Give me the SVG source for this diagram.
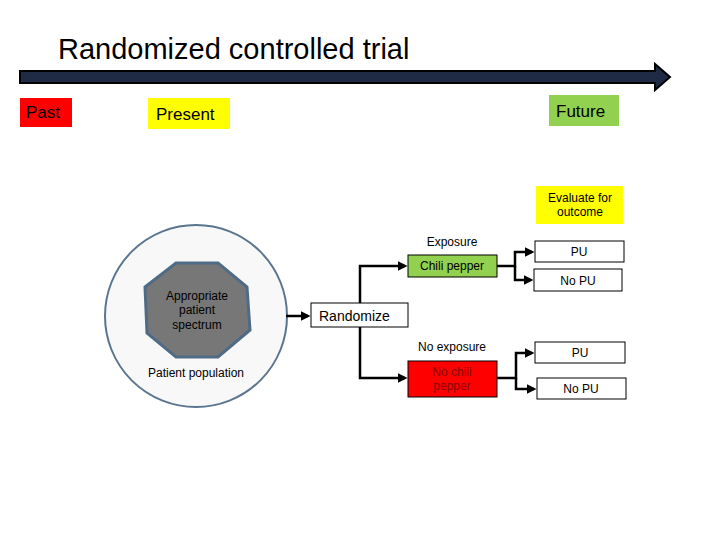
<svg xmlns="http://www.w3.org/2000/svg" width="720" height="540" viewBox="0 0 720 540">
<style>
text{font-family:"Liberation Sans",Arial,sans-serif;fill:#000}
.b{fill:#fff;stroke:#000;stroke-width:1}
.c{fill:none;stroke:#000;stroke-width:2.5}
.s{font-size:12px}
</style>
<defs><marker id="a" markerWidth="4" markerHeight="4" refX="3" refY="2" orient="auto" markerUnits="strokeWidth"><path d="M0,0L4,2L0,4z" fill="#000"/></marker></defs>
<rect width="720" height="540" fill="#fff"/>
<g id="title"><text x="58" y="59" font-size="29">Randomized controlled trial</text></g>
<g id="timeline"><path d="M20,71H655V64L670,77L655,90V83H20Z" fill="#1f2a44" stroke="#000" stroke-width="2"/></g>
<g id="past"><rect x="20" y="98" width="52" height="29" fill="#f00"/><text x="26" y="118" font-size="17">Past</text></g>
<g id="present"><rect x="148" y="98" width="82" height="31" fill="#ff0"/><text x="156" y="120" font-size="17">Present</text></g>
<g id="future"><rect x="549" y="95" width="70" height="31" fill="#92d050"/><text x="556" y="117" font-size="17">Future</text></g>
<g id="evaluate"><rect x="536" y="186" width="87" height="38" fill="#ff0"/><text x="580" y="202" class="s" text-anchor="middle">Evaluate for</text><text x="580" y="216" class="s" text-anchor="middle">outcome</text></g>
<g id="population"><circle cx="196" cy="316" r="91" fill="#f8f8f8" stroke="#5a7590" stroke-width="2"/><text x="196" y="377" class="s" text-anchor="middle">Patient population</text></g>
<g id="spectrum"><polygon points="176,263 218,263 247,287 250,330 218,357 176,357 147,333 145,287" fill="#777" stroke="#4f6b85" stroke-width="3"/><text x="197" y="300" class="s" text-anchor="middle">Appropriate</text><text x="197" y="314" class="s" text-anchor="middle">patient</text><text x="197" y="329" class="s" text-anchor="middle">spectrum</text></g>
<g id="randomize"><rect x="311" y="303" width="97" height="24" class="b"/><text x="319" y="321" font-size="14">Randomize</text></g>
<g id="chili"><text x="452" y="246" class="s" text-anchor="middle">Exposure</text><rect x="408" y="255" width="89" height="22" fill="#92d050" stroke="#000"/><text x="452" y="270" class="s" text-anchor="middle">Chili pepper</text></g>
<g id="nochili"><text x="452" y="351" class="s" text-anchor="middle">No exposure</text><rect x="408" y="361" width="89" height="36" fill="#f00" stroke="#000"/><text x="452" y="376" class="s" text-anchor="middle" fill="#8b0000" style="fill:#8b0000">No chili</text><text x="452" y="390" class="s" text-anchor="middle" style="fill:#8b0000">pepper</text></g>
<g id="pu1"><rect x="535" y="241" width="89" height="21" class="b"/><text x="579" y="256" class="s" text-anchor="middle">PU</text></g>
<g id="nopu1"><rect x="534" y="269" width="88" height="22" class="b"/><text x="578" y="285" class="s" text-anchor="middle">No PU</text></g>
<g id="pu2"><rect x="535" y="342" width="90" height="21" class="b"/><text x="580" y="357" class="s" text-anchor="middle">PU</text></g>
<g id="nopu2"><rect x="537" y="378" width="89" height="21" class="b"/><text x="581" y="393" class="s" text-anchor="middle">No PU</text></g>
<g id="connectors" class="c">
<path class="c" d="M286,316H308" marker-end="url(#a)"/>
<path class="c" d="M360,303V266H405" marker-end="url(#a)"/>
<path class="c" d="M360,327V378H405" marker-end="url(#a)"/>
<path class="c" d="M497,266H515V252H532" marker-end="url(#a)"/>
<path class="c" d="M515,266V280H531" marker-end="url(#a)"/>
<path class="c" d="M497,378H516V353H532" marker-end="url(#a)"/>
<path class="c" d="M516,378V389H534" marker-end="url(#a)"/>
</g>
</svg>
